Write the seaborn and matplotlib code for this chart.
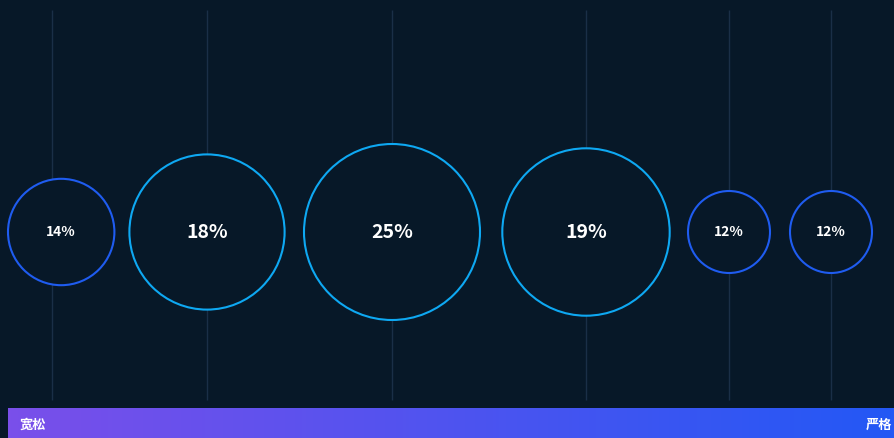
import numpy as np
import pandas as pd
import matplotlib
matplotlib.use("Agg")
import matplotlib.pyplot as plt
from matplotlib.colors import LinearSegmentedColormap
import seaborn as sns

# Share of each group along the lenient -> strict scale
shares = [14, 18, 25, 19, 12, 12]
scale_pos = [52, 207, 392, 586, 729, 831]   # where each group sits on the scale
scale_labels = ["宽松", "严格"]

W, H = 894, 438
BG = "#071828"
GRID = "#1a2f47"
SMALL_EDGE = "#1f5cf0"
BIG_EDGE = "#0ea8f2"

sns.set_theme(style="dark")
plt.rcParams["font.family"] = ["Noto Sans CJK SC", "DejaVu Sans"]

fig = plt.figure(figsize=(W / 100, H / 100), dpi=100, facecolor=BG)
ax = fig.add_axes([0, 0, 1, 1])
ax.set_facecolor(BG)
ax.set_xlim(0, W)
ax.set_ylim(H, 0)
ax.axis("off")

# Bubble radius grows with the share, capped by the plot height
radius = [min(41 + 6.1 * (v - 12), 88) for v in shares]
cx = [max(p, r + 8) for p, r in zip(scale_pos, radius)]
cy = 232

df = pd.DataFrame({
    "x": cx,
    "y": [cy] * len(shares),
    "share": shares,
    "tier": ["big" if v >= 18 else "small" for v in shares],
    "r": radius,
})

# guide lines behind the bubbles
ax.vlines(scale_pos, 10, 400, color=GRID, lw=1, zorder=1)

# marker area in pt^2 from pixel radius (1 px = 0.72 pt at 100 dpi)
size_map = {i: (2 * r * 0.72) ** 2 for i, r in enumerate(radius)}
df["idx"] = range(len(df))
sns.scatterplot(data=df, x="x", y="y", size="idx", sizes=size_map,
                hue="tier", palette={"big": BIG_EDGE, "small": SMALL_EDGE},
                legend=False, ax=ax, zorder=3, linewidth=1.5)
coll = ax.collections[-1]
coll.set_edgecolors(coll.get_facecolors())
coll.set_facecolors(BG)
coll.set_linewidths(1.5)

for x, v in zip(cx, shares):
    big = v >= 18
    ax.text(x, cy, f"{v}%", color="white", ha="center", va="center",
            fontsize=14 if big else 10, fontweight="bold", zorder=4)

# gradient bar along the bottom
cmap = LinearSegmentedColormap.from_list("scale", ["#7a4fea", "#2358f5"])
grad = np.linspace(0, 1, 256).reshape(1, -1)
ax.imshow(grad, cmap=cmap, extent=[8, W, H, 408], aspect="auto", zorder=2)
ax.text(20, 425, scale_labels[0], color="white", ha="left", va="center",
        fontsize=9.5, fontweight="bold", zorder=4)
ax.text(W - 2, 425, scale_labels[1], color="white", ha="right", va="center",
        fontsize=9.5, fontweight="bold", zorder=4)

ax.set_xlim(0, W)
ax.set_ylim(H, 0)
fig.savefig("out.png", dpi=100, facecolor=BG)
